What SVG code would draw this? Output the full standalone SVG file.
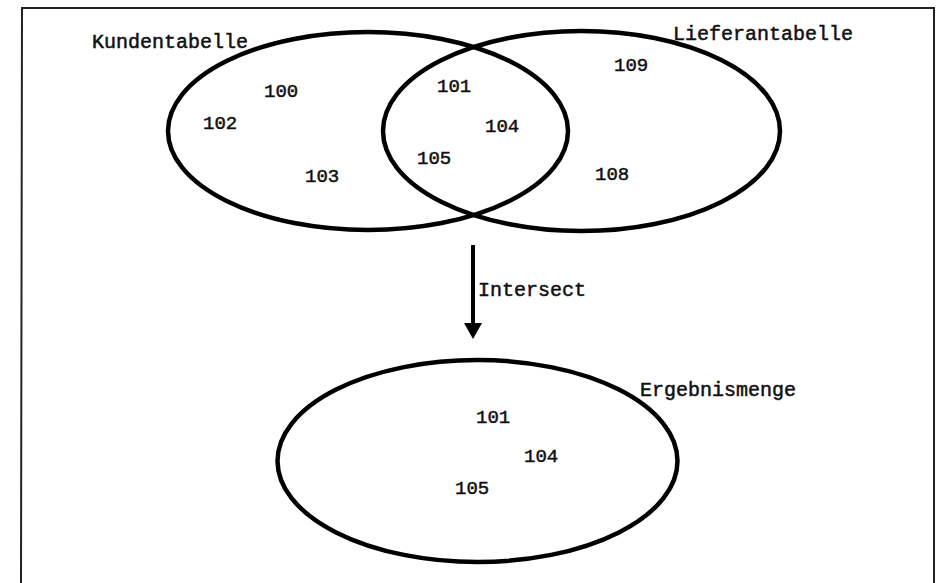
<svg xmlns="http://www.w3.org/2000/svg" width="939" height="583" viewBox="0 0 939 583">
<defs>
<style>
.set{fill:none;stroke:#000;stroke-width:4.5}
.lbl{font-family:"Liberation Mono","Courier New",monospace;font-size:20px;fill:#111;stroke:#111;stroke-width:0.5}
.num{font-family:"Liberation Mono","Courier New",monospace;font-size:19px;fill:#111;stroke:#111;stroke-width:0.5}
</style>
</defs>
<rect width="939" height="583" fill="#fff"/>
<path d="M21,583 L22,8 L934,8 L934,583" fill="none" stroke="#222" stroke-width="2"/>
<g id="kundentabelle">
<ellipse class="set" cx="368" cy="131" rx="200" ry="99"/>
<text class="lbl" x="92" y="48">Kundentabelle</text>
<text class="num" x="264" y="97">100</text>
<text class="num" x="203" y="129">102</text>
<text class="num" x="305" y="182">103</text>
</g>
<g id="lieferantabelle">
<ellipse class="set" cx="581.5" cy="131" rx="198.5" ry="100"/>
<text class="lbl" x="673" y="40">Lieferantabelle</text>
<text class="num" x="614" y="71">109</text>
<text class="num" x="595" y="180">108</text>
</g>
<g id="schnittmenge">
<text class="num" x="437" y="92">101</text>
<text class="num" x="485" y="132">104</text>
<text class="num" x="417" y="164">105</text>
</g>
<g id="ergebnismenge">
<ellipse class="set" cx="477.5" cy="461" rx="200" ry="101"/>
<text class="lbl" x="640" y="396">Ergebnismenge</text>
<text class="num" x="476" y="423">101</text>
<text class="num" x="524" y="462">104</text>
<text class="num" x="455" y="494">105</text>
</g>
<g id="connectors">
<line x1="473" y1="245" x2="473" y2="325" stroke="#000" stroke-width="4"/>
<polygon points="464,323 482,323 473,339" fill="#000"/>
<text class="lbl" x="478" y="296">Intersect</text>
</g>
</svg>
